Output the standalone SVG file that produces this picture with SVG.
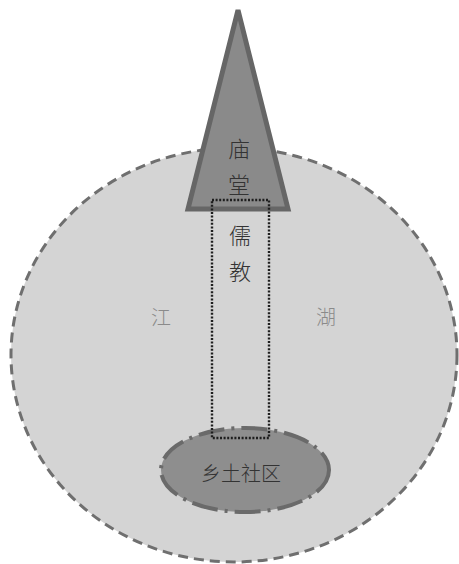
<svg xmlns="http://www.w3.org/2000/svg" width="459" height="564" viewBox="0 0 459 564">
<style>
text{font-family:"Noto Sans CJK SC","Noto Sans CJK TC",sans-serif;text-anchor:middle;dominant-baseline:central;font-weight:300}
.dark{fill:#333;font-size:22px}
.light{fill:#8a8a8a;font-size:20px}
</style>
<rect width="459" height="564" fill="#fff"/>
<g id="jianghu">
<ellipse cx="234" cy="355" rx="223" ry="207" fill="#d4d4d4" stroke="#6f6f6f" stroke-width="3" stroke-dasharray="10 6"/>
<text class="light" x="161" y="316">江</text>
<text class="light" x="326" y="316">湖</text>
</g>
<g id="miaotang">
<polygon points="238,10 188,209 288,209" fill="#8a8a8a" stroke="#666" stroke-width="5" stroke-linejoin="miter"/>
<text class="dark" x="239" y="147">庙</text>
<text class="dark" x="239" y="183">堂</text>
</g>
<g id="xiangtu">
<ellipse cx="245" cy="470" rx="84" ry="42" fill="#8e8e8e" stroke="#6a6a6a" stroke-width="4" stroke-dasharray="26 7 3 7"/>
<text class="dark" x="241" y="472" style="font-size:20px">乡土社区</text>
</g>
<g id="rujiao">
<rect x="212" y="200" width="57" height="238" fill="none" stroke="#1e1e1e" stroke-width="2.4" stroke-dasharray="2 1.6"/>
<text class="dark" x="240" y="234">儒</text>
<text class="dark" x="240" y="270">教</text>
</g>
<g id="connectors"></g>
</svg>
